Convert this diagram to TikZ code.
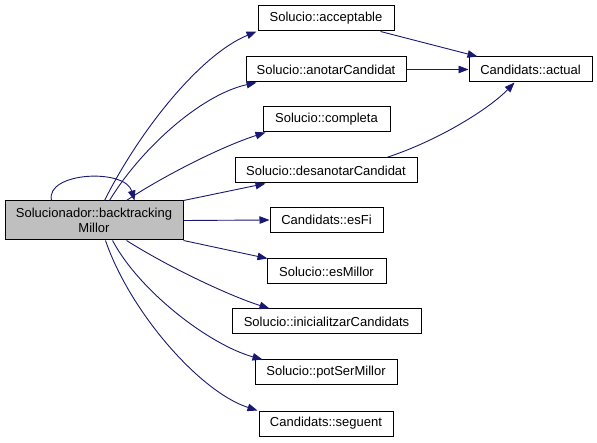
\documentclass[tikz,border=0pt]{standalone}
\usepackage{fontspec}
\setmainfont{Liberation Sans}
\usetikzlibrary{arrows.meta}
\definecolor{edgeblue}{HTML}{191970}
\definecolor{maingray}{HTML}{BFBFBF}
\tikzset{
  fbox/.style={draw=black, line width=1pt, fill=white, inner sep=0pt, minimum height=25pt, font=\fontsize{13}{15}\selectfont, align=center},
  mainbox/.style={fbox, fill=maingray, minimum height=39pt},
  edge/.style={draw=edgeblue, line width=0.9pt, -{Triangle[length=10pt,width=7.5pt]}}
}
\begin{document}
\begin{tikzpicture}[x=1pt,y=-1pt]
\useasboundingbox (0,0) rectangle (597,443);
\fill[white] (0,0) rectangle (597,443);
\node[mainbox, minimum width=178pt] (main) at (94,220.5) {Solucionador::backtracking\\Millor};
\node[fbox, minimum width=136pt] (acc) at (326,18.5) {Solucio::acceptable};
\node[fbox, minimum width=160pt] (anot) at (326,69.5) {Solucio::anotarCandidat};
\node[fbox, minimum width=127pt] (comp) at (326.5,119.5) {Solucio::completa};
\node[fbox, minimum width=182pt] (desan) at (326,170.5) {Solucio::desanotarCandidat};
\node[fbox, minimum width=113pt] (esfi) at (326.5,220) {Candidats::esFi};
\node[fbox, minimum width=119pt] (esmil) at (326.5,271.5) {Solucio::esMillor};
\node[fbox, minimum width=189pt] (inic) at (326.5,321.5) {Solucio::inicialitzarCandidats};
\node[fbox, minimum width=142pt] (pot) at (326,372.5) {Solucio::potSerMillor};
\node[fbox, minimum width=134pt] (seg) at (326,423.5) {Candidats::seguent};
\node[fbox, minimum width=123pt] (act) at (530.5,69.5) {Candidats::actual};

% self loop
\draw[edge] ([xshift=47pt]main.north west) .. controls (45,172) and (125,168) .. ([xshift=130pt]main.north west);
% edges from main
\draw[edge] ([xshift=100pt]main.north west) .. controls (140,130) and (200,55) .. ([xshift=-1pt]acc.south west);
\draw[edge] ([xshift=105pt]main.north west) .. controls (140,150) and (200,95) .. ([xshift=11pt]anot.south west);
\draw[edge] ([xshift=122pt]main.north west) .. controls (160,178) and (220,147) .. ([xshift=3pt]comp.south west);
\draw[edge] (main.north east) -- ([xshift=31pt]desan.south west);
\draw[edge] (main.east) -- (esfi.west);
\draw[edge] (main.south east) -- ([xshift=1pt]esmil.north west);
\draw[edge] ([xshift=122pt]main.south west) .. controls (170,268) and (230,296) .. ([xshift=38pt]inic.north west);
\draw[edge] ([xshift=108pt]main.south west) .. controls (140,292) and (210,345) .. ([xshift=8pt]pot.north west);
\draw[edge] ([xshift=101pt]main.south west) .. controls (130,312) and (200,392) .. ([xshift=-1pt]seg.north west);
% edges to actual
\draw[edge] ([xshift=-14pt]acc.south east) -- ([xshift=9pt]act.north west);
\draw[edge] (anot.east) -- (act.west);
\draw[edge] ([xshift=152pt]desan.north west) .. controls (440,140) and (490,108) .. ([xshift=46pt]act.south west);
\end{tikzpicture}
\end{document}
